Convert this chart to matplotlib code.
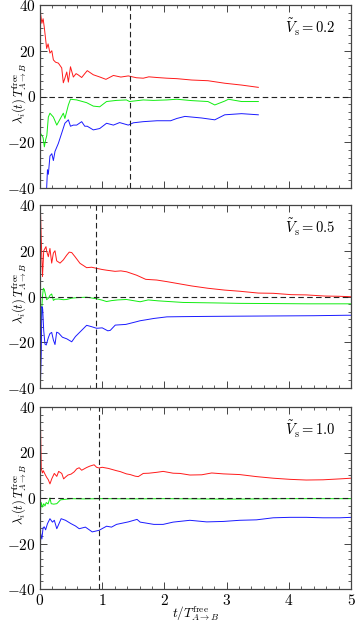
import matplotlib
matplotlib.use("Agg")
import matplotlib.pyplot as plt
from matplotlib.ticker import MultipleLocator, AutoMinorLocator, FuncFormatter

plt.rcParams['mathtext.fontset'] = 'cm'
plt.rcParams['font.family'] = ['DejaVu Serif']

# ---------------- data ----------------
vs_labels = ["0.2", "0.5", "1.0"]
t_vline = [1.44, 0.9, 0.955]

# panel 1 (V_s = 0.2)
t_red1 = [0, 0.01, 0.03, 0.05, 0.07, 0.107, 0.13, 0.16, 0.19, 0.215, 0.25, 0.295, 0.349, 0.375, 0.40,
          0.43, 0.456, 0.49, 0.536, 0.58, 0.617, 0.67, 0.72, 0.76, 0.857, 0.964, 1.06, 1.18, 1.3, 1.42,
          1.55, 1.66, 1.75, 1.88, 2.04, 2.2, 2.44, 2.7, 2.97, 3.24, 3.51]
red1 = [45, 36, 32, 34, 30, 21, 23, 19, 20, 16, 15, 14.6, 12.5, 6, 8,
        10.7, 6.3, 13, 8.5, 10, 9.4, 8.3, 10, 11.3, 9.5, 8.5, 7.5, 9.2, 8.5, 9,
        8.2, 8, 8.6, 8.3, 8, 7.8, 7.2, 6.9, 5.8, 5.0, 4.0]
t_green1 = [0, 0.005, 0.03, 0.05, 0.07, 0.09, 0.11, 0.134, 0.16, 0.215, 0.27, 0.32, 0.375, 0.40, 0.456,
            0.49, 0.59, 0.75, 0.857, 0.96, 1.07, 1.23, 1.39, 1.44, 1.66, 1.82, 2.04, 2.2, 2.44, 2.7,
            2.81, 2.97, 3.03, 3.24, 3.51]
green1 = [-45, -16, -17, -18, -22, -19, -17, -9, -7.3, -9, -12.5, -10, -7.3, -9.6, -3.7,
          -1.2, -1.5, -2.7, -4.2, -4.5, -2.2, -1.7, -1.5, -2.2, -1.5, -1.7, -1.5, -1.2, -1.8, -2.2,
          -3.7, -2.0, -1.2, -2.2, -2.2]
t_blue1 = [0.1, 0.107, 0.12, 0.134, 0.16, 0.19, 0.215, 0.241, 0.295, 0.349, 0.40, 0.456, 0.49, 0.536,
           0.59, 0.67, 0.72, 0.76, 0.857, 0.96, 1.07, 1.18, 1.28, 1.42, 1.5, 1.66, 1.88, 2.1, 2.2,
           2.33, 2.6, 2.81, 2.97, 3.24, 3.51]
blue1 = [-45, -40, -32, -34, -26, -25, -28, -24, -20.5, -16, -11.7, -10.2, -13, -12.5,
         -12.5, -11, -13, -13, -14.6, -14, -11.7, -12.5, -11.4, -12.5, -11.5, -11, -10.6, -10.6, -9.6,
         -8.7, -9.4, -10.2, -8, -7.5, -8]

# panel 2 (V_s = 0.5)
t_red2 = [0, 0.02, 0.04, 0.06, 0.08, 0.096, 0.107, 0.134, 0.16, 0.188, 0.215, 0.241, 0.268, 0.30,
          0.322, 0.375, 0.43, 0.47, 0.51, 0.563, 0.643, 0.70, 0.75, 0.83, 0.911, 1.0, 1.07, 1.206,
          1.30, 1.393, 1.554, 1.70, 1.876, 2.04, 2.25, 2.44, 2.7, 2.97, 3.21, 3.51, 3.75, 4.04, 4.28,
          4.58, 4.8, 5.0]
red2 = [45, 25, 8.7, 20, 21, 21.8, 19.8, 17.4, 21, 14.6, 19, 20, 15.6, 15,
        14.6, 16, 18.1, 19.4, 19.2, 17.4, 14.5, 13.5, 12.6, 12.8, 12.3, 11.8, 11.5, 11,
        11.2, 10.8, 9.3, 7.5, 7.2, 6.5, 5.5, 4.6, 3.6, 2.8, 2.3, 1.5, 1.4, 0.8, 0.7,
        0.2, 0.1, -0.1]
t_green2 = [0, 0.02, 0.04, 0.054, 0.07, 0.107, 0.134, 0.16, 0.188, 0.215, 0.241, 0.30, 0.375, 0.43,
            0.51, 0.6, 0.75, 0.91, 1.0, 1.07, 1.15, 1.25, 1.39, 1.61, 1.74, 1.9, 2.3, 2.8, 3.21,
            3.8, 4.3, 4.93, 5.0]
green2 = [-15, -9, 0, 3.6, 3.0, -1.4, -0.8, 0.5, 1.1, -1.7, -1.2, -1.1, -1.4, -1.3,
          -0.7, -0.5, -0.3, -1.0, -1.6, -2.2, -1.8, -1.5, -1.3, -2.3, -1.5, -1.9, -2.6, -2.8, -3.0,
          -3.1, -3.2, -3.2, -3.2]
t_blue2 = [0, 0.02, 0.03, 0.043, 0.06, 0.08, 0.1, 0.134, 0.16, 0.188, 0.215, 0.241, 0.268, 0.30,
           0.36, 0.43, 0.51, 0.57, 0.64, 0.75, 0.83, 0.91, 1.0, 1.09, 1.13, 1.21, 1.38, 1.54, 1.61,
           1.70, 1.83, 2.04, 2.3, 2.68, 3.2, 3.8, 4.4, 4.93, 5.0]
blue2 = [-45, -25, -4.4, -5.4, -15, -20.8, -21.2, -18, -16.2, -15.7, -19, -21, -15.6, -16,
         -17.8, -18.5, -19.8, -17.5, -15.6, -12.6, -13.2, -13.9, -13.7, -15, -14.8, -12.5, -12.2,
         -11.1, -10.6, -10.2, -9.6, -8.9, -8.8, -8.7, -8.6, -8.5, -8.4, -8.2, -8.2]

# panel 3 (V_s = 1.0)
t_red3 = [0, 0.02, 0.04, 0.054, 0.08, 0.107, 0.134, 0.16, 0.19, 0.23, 0.27, 0.30, 0.35, 0.38, 0.41,
          0.45, 0.5, 0.55, 0.59, 0.63, 0.67, 0.71, 0.75, 0.8, 0.87, 0.91, 0.95, 1.0, 1.1, 1.23,
          1.29, 1.39, 1.45, 1.53, 1.58, 1.66, 1.75, 1.88, 1.98, 2.14, 2.25, 2.41, 2.6, 2.76, 2.95,
          3.21, 3.48, 3.75, 4.02, 4.28, 4.55, 4.82, 5.0]
red3 = [45, 13, 11, 12, 10.5, 9.1, 8, 6.2, 8.5, 10.8, 9.5, 11.7, 10.8, 8.4, 9.2,
        10.1, 10.5, 11.5, 12.8, 13.3, 12.2, 12.8, 13.4, 14, 14.6, 13.5, 13.2, 13.5, 13, 12,
        11.6, 10.6, 10.3, 9.6, 9.4, 10.8, 10.9, 11.3, 11.7, 10.9, 10.8, 10.1, 10.2, 11.0, 10.6,
        10.3, 9.4, 8.7, 8.2, 7.9, 8.0, 8.4, 8.7]
t_green3 = [0, 0.01, 0.02, 0.04, 0.06, 0.08, 0.1, 0.13, 0.16, 0.18, 0.22, 0.27, 0.33, 0.4, 0.5,
            0.7, 1.0, 1.5, 2.0, 2.5, 3.0, 3.5, 4.0, 4.5, 5.0]
green3 = [-10, -5, -2, -4, -2.5, -3.5, -2, -2.6, 0.0, -2.5, -2.7, -2.5, -0.8, -0.6, -0.3,
          -0.4, -0.3, -0.4, -0.3, -0.4, -0.5, -0.4, -0.3, -0.3, -0.3]
t_blue3 = [0, 0.01, 0.03, 0.05, 0.07, 0.09, 0.12, 0.16, 0.2, 0.23, 0.27, 0.34, 0.41, 0.5, 0.57,
           0.63, 0.73, 0.84, 0.95, 1.07, 1.15, 1.23, 1.42, 1.56, 1.61, 1.70, 1.83, 1.98, 2.14,
           2.41, 2.68, 2.95, 3.21, 3.48, 3.75, 4.02, 4.28, 4.55, 4.82, 5.0]
blue3 = [-45, -15.6, -18, -13, -12.7, -14, -11.3, -9.1, -10.6, -9.8, -13.5, -9.1, -9.8, -11.3, -12.3,
         -13.5, -12.8, -14.9, -14.2, -12.4, -12.8, -11.6, -10.5, -9.4, -10.6, -11, -11.6, -11.6,
         -10.6, -9.8, -10.5, -10.3, -9.8, -9.6, -8.7, -8.5, -8.5, -8.7, -8.7, -8.5]

panels = [
    ((t_red1, red1), (t_green1, green1), (t_blue1, blue1)),
    ((t_red2, red2), (t_green2, green2), (t_blue2, blue2)),
    ((t_red3, red3), (t_green3, green3), (t_blue3, blue3)),
]
colors = ["#ff1a1a", "#11ee11", "#1a1aff"]

# ---------------- figure ----------------
W, H = 355, 623
fig = plt.figure(figsize=(W / 100, H / 100), dpi=100)
left, width = 40 / W, 311 / W
tops = [5, 205, 407]
heights = [183, 183, 182]

fmt = FuncFormatter(lambda v, p: r"$%d$" % int(round(v)))
frame_col = "#444444"
for i in range(3):
    bottom = 1 - (tops[i] + heights[i]) / H
    ax = fig.add_axes([left, bottom, width, heights[i] / H])
    for (tt, vv), c in zip(panels[i], colors):
        ax.plot(tt, vv, color=c, lw=0.7)
    ax.axhline(0, color="#222222", lw=0.8, ls=(0, (5, 3)))
    ax.axvline(t_vline[i], color="#222222", lw=0.8, ls=(0, (5, 3)))
    ax.set_xlim(0, 5)
    ax.set_ylim(-40, 40)
    ax.xaxis.set_major_locator(MultipleLocator(1))
    ax.xaxis.set_minor_locator(MultipleLocator(0.2))
    ax.yaxis.set_major_locator(MultipleLocator(20))
    ax.yaxis.set_minor_locator(AutoMinorLocator(6))
    ax.tick_params(which="both", direction="in", top=True, right=True, color=frame_col,
                   labelsize=11, pad=3)
    ax.tick_params(which="major", length=5, width=0.7)
    ax.tick_params(which="minor", length=2.5, width=0.6)
    for s in ax.spines.values():
        s.set_color(frame_col)
        s.set_linewidth(0.9)
    ax.yaxis.set_major_formatter(fmt)
    ax.xaxis.set_major_formatter(fmt)
    if i < 2:
        ax.tick_params(labelbottom=False)
    else:
        ax.set_xlabel(r"$t/T^{\mathrm{free}}_{A\to B}$", fontsize=9.5)
        ax.xaxis.set_label_coords(0.5, -0.085)
        ax.xaxis.label.set_va("top")
    ax.set_ylabel(r"$\lambda_i(t)\,T^{\mathrm{free}}_{A\to B}$", fontsize=9)
    ax.yaxis.set_label_coords(-0.04, 0.52)
    ax.text(0.95, 0.875, r"$\tilde{V}_{\mathrm{s}} = %s$" % vs_labels[i], transform=ax.transAxes,
            ha="right", va="center", fontsize=10.5)

fig.savefig("out.png", dpi=100)
